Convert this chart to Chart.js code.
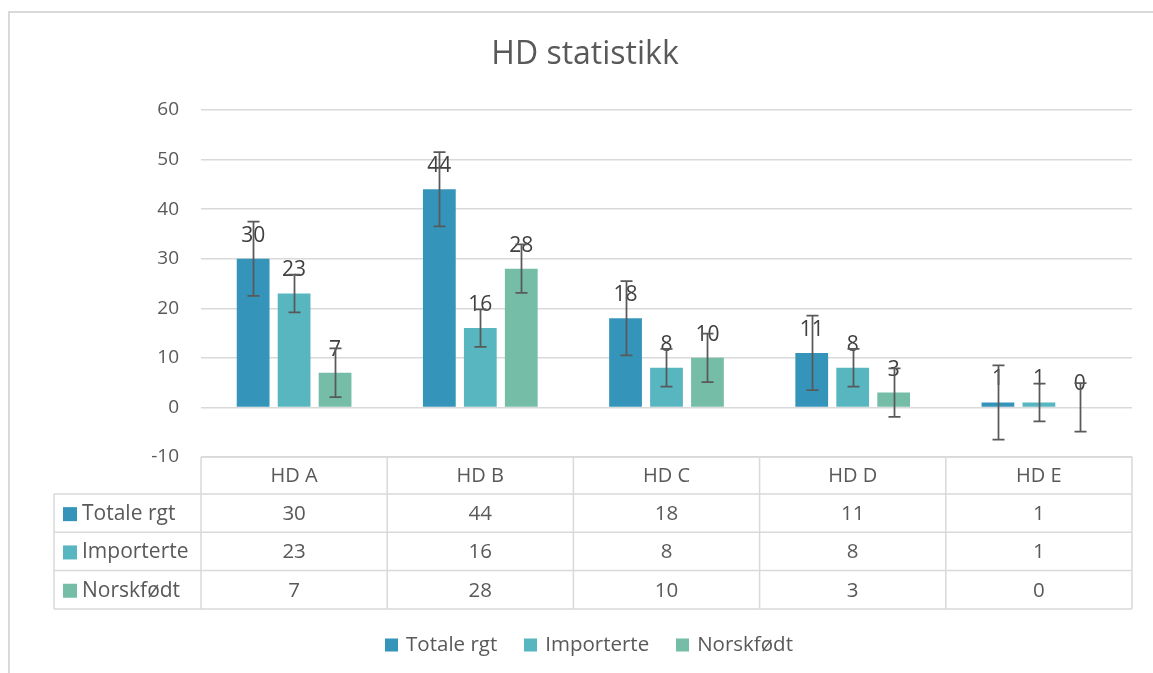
<!DOCTYPE html>
<html><head><meta charset="utf-8">
<script src="https://cdn.jsdelivr.net/npm/chart.js@4.4.1/dist/chart.umd.min.js"></script>
<style>html,body{margin:0;padding:0;background:#fff;}canvas{display:block;}</style>
</head><body>
<canvas id="c" width="1153" height="673"></canvas>
<script>
const categories = ["HD A", "HD B", "HD C", "HD D", "HD E"];
const seriesNames = ["Totale rgt", "Importerte", "Norskfødt"];
const totale = [30, 44, 18, 11, 1];
const importerte = [23, 16, 8, 8, 1];
const norskfodt = [7, 28, 10, 3, 0];
const errTotale = [7.5, 7.5, 7.5, 7.5, 7.5];
const errImporterte = [3.8, 3.8, 3.8, 3.8, 3.8];
const errNorskfodt = [4.9, 4.9, 4.9, 4.9, 4.9];
const yTicks = [-10, 0, 10, 20, 30, 40, 50, 60];
const chartTitle = "HD statistikk";

const colors = ["#3494BA", "#58B6C0", "#75BDA7"];
const FONT = "'Open Sans', 'Noto Sans', sans-serif";
const TXT = "#595959";
const GRID = "#d9d9d9";

const seriesValues = [totale, importerte, norskfodt];
const seriesErrs = [errTotale, errImporterte, errNorskfodt];

const overlay = {
  id: 'overlay',
  afterDatasetsDraw(chart) {
    const ctx = chart.ctx;
    const y = chart.scales.y;
    ctx.save();
    ctx.font = "21px " + FONT;
    ctx.fillStyle = "#404040";
    ctx.textAlign = "center";
    ctx.textBaseline = "middle";
    chart.data.datasets.forEach((ds, di) => {
      const meta = chart.getDatasetMeta(di);
      meta.data.forEach((bar, i) => {
        ctx.fillText(String(ds.data[i]), bar.x, bar.y - 23);
      });
    });
    ctx.strokeStyle = "#595959";
    ctx.lineWidth = 1.75;
    chart.data.datasets.forEach((ds, di) => {
      const meta = chart.getDatasetMeta(di);
      meta.data.forEach((bar, i) => {
        const v = ds.data[i], e = seriesErrs[di][i];
        const yt = y.getPixelForValue(v + e), yb = y.getPixelForValue(v - e);
        const x = Math.round(bar.x) + 0.5;
        ctx.beginPath();
        ctx.moveTo(x, yt); ctx.lineTo(x, yb);
        ctx.moveTo(x - 6, yt); ctx.lineTo(x + 6, yt);
        ctx.moveTo(x - 6, yb); ctx.lineTo(x + 6, yb);
        ctx.stroke();
      });
    });
    ctx.restore();
  },
  afterDraw(chart) {
    const ctx = chart.ctx;
    const xs = chart.scales.x;
    const area = chart.chartArea;
    const left = area.left, right = area.right;
    const top = area.bottom;
    const rowH = 38.3;
    const headerBottom = top + 37;
    const tableLeft = 54;
    const n = categories.length;
    const colW = (right - left) / n;
    ctx.save();
    // outer chart border
    ctx.strokeStyle = GRID;
    ctx.lineWidth = 2;
    ctx.beginPath();
    ctx.moveTo(9, 673); ctx.lineTo(9, 12); ctx.lineTo(1153, 12);
    ctx.stroke();
    // title
    ctx.font = "32px " + FONT;
    ctx.fillStyle = TXT;
    ctx.textAlign = "center";
    ctx.textBaseline = "middle";
    ctx.fillText(chartTitle, 585, 55);
    // table grid
    ctx.lineWidth = 1.5;
    ctx.beginPath();
    const bottom = headerBottom + rowH * 3;
    ctx.moveTo(left, top); ctx.lineTo(right, top);
    for (let r = 0; r <= 3; r++) {
      const yy = headerBottom + rowH * r;
      ctx.moveTo(tableLeft, yy); ctx.lineTo(right, yy);
    }
    ctx.moveTo(tableLeft, headerBottom); ctx.lineTo(tableLeft, bottom);
    for (let c = 0; c <= n; c++) {
      const xx = left + colW * c;
      ctx.moveTo(xx, top); ctx.lineTo(xx, bottom);
    }
    ctx.stroke();
    ctx.font = "20px " + FONT;
    ctx.fillStyle = TXT;
    ctx.textAlign = "center";
    ctx.textBaseline = "middle";
    categories.forEach((c, i) => {
      ctx.fillText(c, xs.getPixelForValue(i), (top + headerBottom) / 2 + 1);
    });
    seriesNames.forEach((name, r) => {
      const cy = headerBottom + rowH * r + rowH / 2 + 1;
      ctx.fillStyle = colors[r];
      ctx.fillRect(63, cy - 7, 14, 14);
      ctx.fillStyle = TXT;
      ctx.textAlign = "left";
      ctx.font = "21px " + FONT;
      ctx.fillText(name, 82, cy);
      ctx.textAlign = "center";
      ctx.font = "20.5px " + FONT;
      seriesValues[r].forEach((v, i) => {
        ctx.fillText(String(v), xs.getPixelForValue(i), cy);
      });
    });
    // legend
    ctx.font = "20.5px " + FONT;
    ctx.textAlign = "left";
    const box = 13, gapBT = 8, gapItem = 27;
    const widths = seriesNames.map(s => ctx.measureText(s).width);
    const total = widths.reduce((a, w) => a + box + gapBT + w, 0) + gapItem * (seriesNames.length - 1);
    let lx = 589 - total / 2;
    const ly = 645;
    seriesNames.forEach((name, i) => {
      ctx.fillStyle = colors[i];
      ctx.fillRect(Math.round(lx), ly - 6.5, box, box);
      ctx.fillStyle = TXT;
      ctx.fillText(name, lx + box + gapBT, ly);
      lx += box + gapBT + widths[i] + gapItem;
    });
    ctx.restore();
  }
};

new Chart(document.getElementById('c'), {
  type: 'bar',
  data: {
    labels: categories,
    datasets: seriesNames.map((name, i) => ({
      label: name,
      data: seriesValues[i],
      backgroundColor: colors[i],
      borderWidth: 0,
      categoryPercentage: 0.66,
      barPercentage: 0.8
    }))
  },
  options: {
    responsive: false,
    animation: false,
    devicePixelRatio: 1,
    layout: { padding: { left: 0, right: 21, top: 110, bottom: 216 } },
    plugins: {
      title: { display: false },
      legend: { display: false },
      tooltip: { enabled: false }
    },
    scales: {
      x: {
        display: false
      },
      y: {
        min: -10, max: 60,
        afterBuildTicks(scale) { scale.ticks = yTicks.map(v => ({ value: v })); },
        grid: { color: GRID, lineWidth: 1.5, drawTicks: false },
        border: { display: false },
        ticks: { color: TXT, font: { family: FONT, size: 19 }, padding: 22 },
        afterFit(scale) { scale.width = 201; }
      }
    }
  },
  plugins: [overlay]
});
</script>
</body></html>
